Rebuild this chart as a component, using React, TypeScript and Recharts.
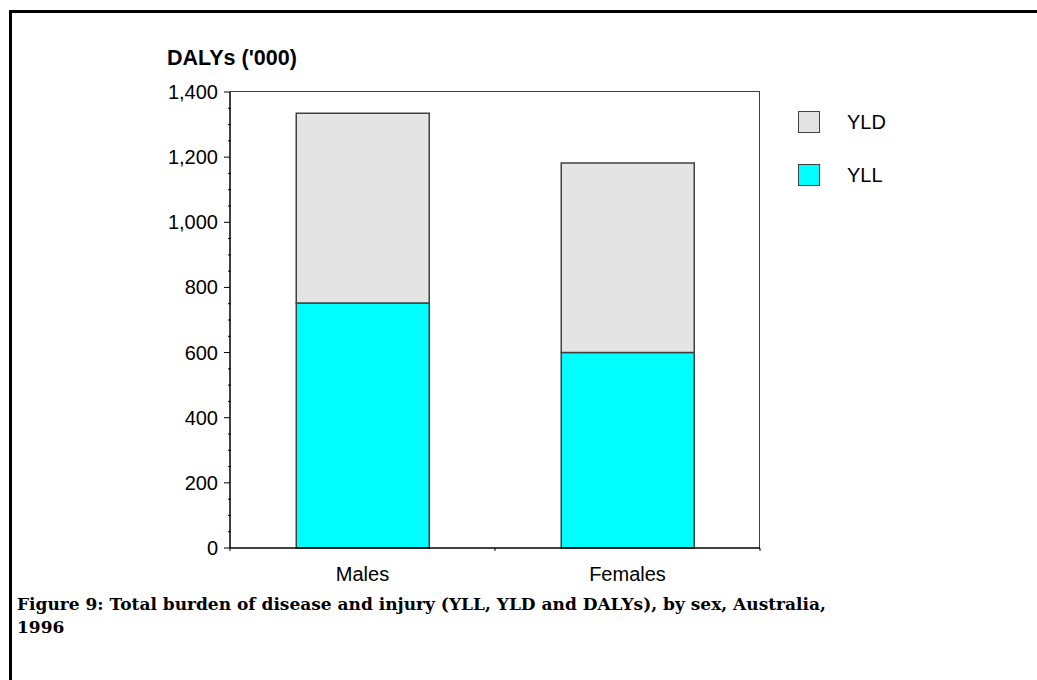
import { BarChart, Bar, XAxis, YAxis } from 'recharts';

const categories = ['Males', 'Females'];
const yllValues = [752, 600];
const yldValues = [583, 582];
const yTicks = [
  0, 50, 100, 150, 200, 250, 300, 350, 400, 450, 500, 550, 600, 650, 700, 750,
  800, 850, 900, 950, 1000, 1050, 1100, 1150, 1200, 1250, 1300, 1350, 1400,
];
const legendItems = [
  { name: 'YLD', color: '#E4E4E4' },
  { name: 'YLL', color: '#00FFFF' },
];

const data = categories.map((sex, i) => ({ sex, YLL: yllValues[i], YLD: yldValues[i] }));

const sans = '"Liberation Sans", Arial, sans-serif';
const serif = '"DejaVu Serif", serif';

const TICK = 6;
const TICK_GAP = 6;

// labels only every 200, short marks at every 50
const YTick = (props: any) => {
  const { x, y, payload } = props;
  const axisX = x + TICK + TICK_GAP;
  const major = payload.value % 200 === 0;
  return (
    <g>
      <line x1={axisX - (major ? TICK : 2)} x2={axisX + (major ? 0 : 1)} y1={y} y2={y} stroke="#000" />
      {major && (
        <text x={x} y={y} dy="0.35em" textAnchor="end" fill="#000" fontFamily={sans} fontSize={20}>
          {payload.value.toLocaleString('en-US')}
        </text>
      )}
    </g>
  );
};

// category labels plus small marks at the band edges
const XTick = (props: any) => {
  const { x, y, payload, index } = props;
  const half = payload.offset ?? 0;
  const axisY = y - 19;
  return (
    <g>
      {index === 0 && <line x1={x - half} x2={x - half} y1={axisY} y2={axisY + 3} stroke="#000" />}
      <line x1={x + half} x2={x + half} y1={axisY} y2={axisY + 3} stroke="#000" />
      <text x={x} y={y} dy="0.71em" textAnchor="middle" fill="#000" fontFamily={sans} fontSize={20}>
        {payload.value}
      </text>
    </g>
  );
};

export default function App() {
  return (
    <div style={{ position: 'absolute', left: 0, top: 0, width: 1037, height: 680, background: '#fff' }}>
      <div
        style={{
          position: 'absolute',
          left: 9,
          top: 10,
          width: 1040,
          height: 680,
          borderLeft: '3px solid #000',
          borderTop: '3px solid #000',
        }}
      />
      <div
        style={{
          position: 'absolute',
          left: 167,
          top: 46,
          fontFamily: sans,
          fontWeight: 'bold',
          fontSize: 21.5,
          color: '#000',
        }}
      >
        DALYs ('000)
      </div>

      {/* top and right edges of the plot frame */}
      <div
        style={{
          position: 'absolute',
          left: 230,
          top: 91,
          width: 529,
          height: 457,
          borderTop: '1.5px solid #404040',
          borderRight: '1.5px solid #404040',
        }}
      />

      <div style={{ position: 'absolute', left: 0, top: 0 }}>
        <BarChart
          width={1037}
          height={680}
          data={data}
          barCategoryGap="25%"
          margin={{ top: 92, left: 170, right: 277, bottom: 102 }}
        >
          <XAxis
            dataKey="sex"
            height={30}
            tickLine={false}
            tickSize={0}
            tickMargin={19}
            axisLine={{ stroke: '#000', strokeWidth: 1.5 }}
            tick={<XTick />}
          />
          <YAxis
            domain={[0, 1400]}
            ticks={yTicks}
            interval={0}
            width={60}
            tickSize={TICK}
            tickMargin={TICK_GAP}
            axisLine={{ stroke: '#000', strokeWidth: 1.5 }}
            tickLine={false}
            tick={<YTick />}
          />
          <Bar dataKey="YLL" stackId="a" fill="#00FFFF" stroke="#404040" strokeWidth={1.5} isAnimationActive={false} />
          <Bar dataKey="YLD" stackId="a" fill="#E4E4E4" stroke="#404040" strokeWidth={1.5} isAnimationActive={false} />
        </BarChart>
      </div>

      {legendItems.map((item, i) => (
        <div
          key={item.name}
          style={{ position: 'absolute', left: 798, top: 111 + i * 53, height: 22, display: 'flex', alignItems: 'center' }}
        >
          <div style={{ width: 20, height: 20, background: item.color, border: '1.5px solid #404040' }} />
          <span style={{ marginLeft: 27, fontFamily: sans, fontSize: 20, color: '#000' }}>{item.name}</span>
        </div>
      ))}

      <div
        style={{
          position: 'absolute',
          left: 17,
          top: 593,
          width: 950,
          fontFamily: serif,
          fontWeight: 'bold',
          fontSize: 17,
          lineHeight: '23px',
          color: '#000',
        }}
      >
        Figure 9: Total burden of disease and injury (YLL, YLD and DALYs), by sex, Australia,
        <br />
        1996
      </div>
    </div>
  );
}
